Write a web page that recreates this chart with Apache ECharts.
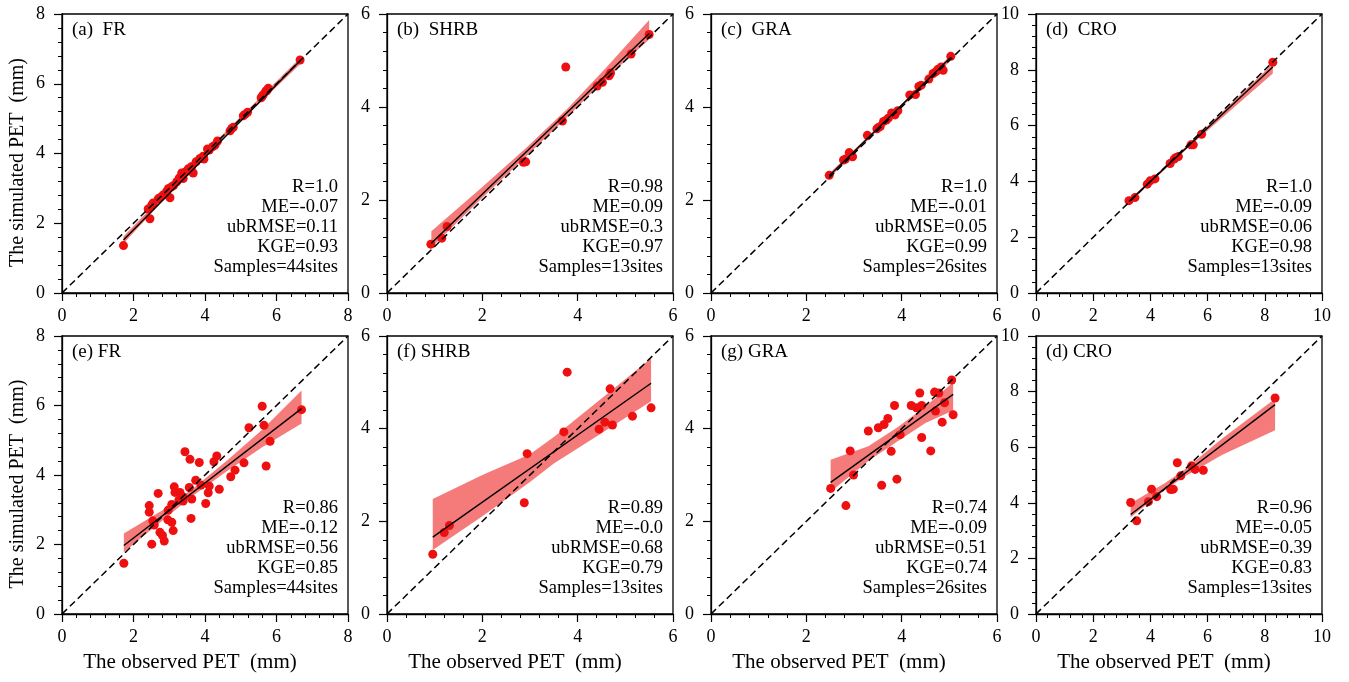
<!DOCTYPE html>
<html><head><meta charset="utf-8">
<script src="https://cdn.jsdelivr.net/npm/echarts@6/dist/echarts.min.js"></script>
<style>html,body{margin:0;padding:0;background:#fff}#c{width:1349px;height:682px}</style>
</head><body><div id="c"></div><script>
// ---------- DATA ----------
const panelLabels = ['(a)  FR','(b)  SHRB','(c)  GRA','(d)  CRO','(e) FR','(f) SHRB','(g) GRA','(d) CRO'];
const axisMax = [8, 6, 6, 10, 8, 6, 6, 10];
const xTitle = 'The observed PET  (mm)';
const yTitle = 'The simulated PET  (mm)';

const ptsA = [[1.72,1.36],[2.46,2.13],[2.41,2.41],[2.51,2.52],[2.69,2.70],[2.83,2.81],[3.02,2.73],[3.07,3.05],[2.93,2.92],[3.21,3.19],[3.35,3.44],[3.39,3.28],[3.53,3.56],[3.67,3.44],[3.63,3.63],[3.86,3.86],[3.97,3.84],[4.07,4.13],[4.28,4.24],[4.35,4.36],[4.70,4.65],[4.79,4.75],[5.07,5.08],[5.19,5.18],[5.57,5.60],[5.63,5.69],[5.70,5.79],[5.77,5.87],[6.66,6.68],[2.55,2.58],[2.75,2.74],[2.98,3.00],[3.12,3.08],[3.28,3.30],[3.45,3.47],[3.58,3.50],[3.75,3.76],[4.12,4.10],[4.22,4.20],[4.75,4.72],[5.12,5.12],[5.60,5.64],[5.73,5.80],[3.95,3.92]];
const ptsB = [[0.92,1.05],[1.15,1.18],[1.26,1.43],[2.86,2.81],[2.91,2.82],[3.68,3.70],[3.75,4.86],[4.41,4.45],[4.52,4.53],[4.66,4.67],[4.69,4.73],[5.12,5.14],[5.50,5.56]];
const ptsC = [[2.48,2.53],[2.78,2.86],[2.90,3.02],[2.97,2.93],[3.28,3.39],[3.48,3.53],[3.55,3.58],[3.62,3.69],[3.72,3.76],[3.79,3.87],[3.86,3.83],[3.92,3.92],[4.17,4.26],[4.29,4.27],[4.36,4.44],[4.41,4.47],[4.57,4.60],[4.66,4.72],[4.76,4.81],[4.83,4.86],[4.87,4.79],[5.03,5.09],[3.50,3.55],[3.68,3.72],[4.72,4.76],[2.82,2.88]];
const ptsD = [[3.25,3.31],[3.46,3.42],[3.89,3.90],[3.99,4.02],[4.16,4.09],[4.69,4.64],[4.83,4.80],[4.90,4.86],[4.98,4.89],[5.42,5.31],[5.50,5.31],[5.79,5.69],[8.28,8.27]];
const ptsE = [[1.73,1.46],[2.51,2.01],[2.44,3.12],[2.44,2.93],[2.54,2.68],[2.58,2.56],[2.69,3.47],[2.74,2.35],[2.81,2.26],[2.86,2.10],[2.96,2.71],[3.07,2.64],[3.11,2.40],[2.97,2.99],[3.07,3.15],[3.14,3.66],[3.16,3.50],[3.30,3.50],[3.39,3.37],[3.39,3.25],[3.44,4.67],[3.56,3.64],[3.58,4.45],[3.61,2.75],[3.63,3.31],[3.74,3.85],[3.84,4.36],[3.89,3.71],[4.02,3.18],[4.09,3.49],[4.12,3.68],[4.25,4.38],[4.33,4.55],[4.40,3.59],[4.72,3.95],[4.84,4.14],[5.09,4.35],[5.23,5.36],[5.60,5.98],[5.65,5.43],[5.71,4.26],[5.82,4.97],[6.70,5.88],[3.27,3.28]];
const ptsF = [[0.96,1.29],[1.20,1.76],[1.31,1.91],[2.88,2.40],[2.94,3.46],[3.71,3.93],[3.78,5.22],[4.45,3.99],[4.57,4.14],[4.68,4.86],[4.73,4.08],[5.15,4.27],[5.54,4.45]];
const ptsG = [[2.51,2.71],[2.83,2.34],[2.92,3.52],[2.99,3.00],[3.30,3.95],[3.51,4.02],[3.58,2.78],[3.63,4.09],[3.71,4.22],[3.78,3.51],[3.85,4.50],[3.90,2.91],[3.97,3.87],[4.20,4.50],[4.31,4.45],[4.38,4.77],[4.42,4.50],[4.42,3.81],[4.61,3.52],[4.69,4.79],[4.71,4.38],[4.78,4.77],[4.85,4.14],[4.90,4.56],[5.05,5.05],[5.08,4.30]];
const ptsH = [[3.31,4.01],[3.52,3.35],[3.93,4.04],[4.04,4.49],[4.22,4.22],[4.71,4.48],[4.80,4.49],[4.94,5.44],[5.06,4.97],[5.44,5.33],[5.56,5.20],[5.85,5.17],[8.36,7.77]];

// regression lines: [[x0,y0],[x1,y1]]
const fitA = [[1.72,1.52],[6.66,6.66]];
const fitB = [[0.93,1.07],[5.50,5.58]];
const fitC = [[2.48,2.52],[5.03,5.07]];
const fitD = [[3.25,3.28],[8.28,8.10]];
const fitE = [[1.73,1.97],[6.70,5.91]];
const fitF = [[0.96,1.66],[5.54,4.98]];
const fitG = [[2.51,2.84],[5.08,4.74]];
const fitH = [[3.31,3.58],[8.36,7.53]];

// confidence bands: [x, lower, upper]
const bandA = [[1.72,1.42,1.62],[4.0,3.94,4.04],[6.66,6.56,6.74]];
const bandB = [[0.93,0.98,1.33],[2.0,2.05,2.28],[2.9,2.92,3.10],[3.8,3.80,3.98],[4.6,4.62,4.85],[5.5,5.45,5.87]];
const bandC = [[2.48,2.47,2.57],[3.8,3.80,3.86],[5.03,5.00,5.12]];
const bandD = [[3.25,3.23,3.33],[5.5,5.38,5.50],[8.28,7.87,8.22]];
const bandE = [[1.73,1.78,2.32],[2.8,2.68,2.98],[3.7,3.43,3.64],[4.6,4.10,4.40],[5.6,4.80,5.30],[6.70,5.48,6.43]];
const bandF = [[0.96,1.38,2.48],[2.0,2.11,3.00],[3.0,2.85,3.45],[3.5,3.25,3.82],[4.5,3.90,4.65],[5.54,4.59,5.52]];
const bandG = [[2.51,2.64,3.33],[3.3,3.30,3.62],[3.9,3.72,4.02],[4.5,4.12,4.48],[5.08,4.39,5.00]];
const bandH = [[3.31,3.48,3.98],[4.5,4.45,4.70],[5.2,4.95,5.20],[6.5,5.72,6.30],[8.36,6.61,7.74]];

const statsA = ['R=1.0','ME=-0.07','ubRMSE=0.11','KGE=0.93','Samples=44sites'];
const statsB = ['R=0.98','ME=0.09','ubRMSE=0.3','KGE=0.97','Samples=13sites'];
const statsC = ['R=1.0','ME=-0.01','ubRMSE=0.05','KGE=0.99','Samples=26sites'];
const statsD = ['R=1.0','ME=-0.09','ubRMSE=0.06','KGE=0.98','Samples=13sites'];
const statsE = ['R=0.86','ME=-0.12','ubRMSE=0.56','KGE=0.85','Samples=44sites'];
const statsF = ['R=0.89','ME=-0.0','ubRMSE=0.68','KGE=0.79','Samples=13sites'];
const statsG = ['R=0.74','ME=-0.09','ubRMSE=0.51','KGE=0.74','Samples=26sites'];
const statsH = ['R=0.96','ME=-0.05','ubRMSE=0.39','KGE=0.83','Samples=13sites'];

// ---------- BUILD ----------
const pts = [ptsA,ptsB,ptsC,ptsD,ptsE,ptsF,ptsG,ptsH];
const fits = [fitA,fitB,fitC,fitD,fitE,fitF,fitG,fitH];
const bands = [bandA,bandB,bandC,bandD,bandE,bandF,bandG,bandH];
const stats = [statsA,statsB,statsC,statsD,statsE,statsF,statsG,statsH];

const FONT = '"Liberation Serif","Times New Roman",serif';
const colLeft = [62, 387, 711, 1036];
const W = 286;
const rowTop = [14, 336];
const H = [279, 278];

const grids = [], xAxes = [], yAxes = [], series = [], graphics = [];
for (let i = 0; i < 8; i++) {
  const r = Math.floor(i / 4), c = i % 4;
  const left = colLeft[c], top = rowTop[r], h = H[r];
  grids.push({left: left, top: top, width: W, height: h, show: true, borderColor: '#000', borderWidth: 1.3, backgroundColor: 'transparent'});
  const common = {
    type: 'value', min: 0, max: axisMax[i], interval: 2, gridIndex: i,
    axisLine: {show: true, onZero: false, lineStyle: {color: '#000', width: 1.3}},
    axisTick: {show: true, inside: false, length: 8, lineStyle: {color: '#000', width: 1.2}},
    minorTick: {show: true, splitNumber: 5, length: 4, lineStyle: {color: '#000', width: 1}},
    splitLine: {show: false},
    axisLabel: {color: '#000', fontFamily: FONT, fontSize: 18},
  };
  const xa = Object.assign({}, common, {axisLabel: Object.assign({}, common.axisLabel, {margin: 14})});
  if (r === 1) {
    Object.assign(xa, {name: xTitle, nameLocation: 'middle', nameGap: 38,
      nameTextStyle: {color: '#000', fontFamily: FONT, fontSize: 21, padding: [0, 30, 0, 0]}});
  }
  const ya = Object.assign({}, common, {axisLabel: Object.assign({}, common.axisLabel, {margin: 17})});
  if (c === 0) {
    Object.assign(ya, {name: yTitle, nameLocation: 'middle', nameGap: 34,
      nameTextStyle: {color: '#000', fontFamily: FONT, fontSize: 20, padding: [0, 18, 0, 0]}});
  }
  xAxes.push(xa); yAxes.push(ya);

  const band = bands[i];
  series.push({
    type: 'custom', xAxisIndex: i, yAxisIndex: i, z: 1, silent: true, clip: true,
    data: band, encode: {x: 0, y: [1, 2]},
    renderItem: function (params, api) {
      if (params.dataIndex !== 0) return null;
      const up = band.map(b => api.coord([b[0], b[2]]));
      const lo = band.slice().reverse().map(b => api.coord([b[0], b[1]]));
      return {type: 'polygon', shape: {points: up.concat(lo)}, style: {fill: '#f57b7b'}};
    }
  });
  series.push({
    type: 'scatter', xAxisIndex: i, yAxisIndex: i, z: 3, data: pts[i], symbolSize: 9,
    itemStyle: {color: '#ee1010', opacity: 1}, silent: true
  });
  series.push({
    type: 'line', xAxisIndex: i, yAxisIndex: i, z: 4, data: fits[i], showSymbol: false, symbol: 'none',
    lineStyle: {color: '#000', width: 1.4}, silent: true
  });
  series.push({
    type: 'line', xAxisIndex: i, yAxisIndex: i, z: 5, data: [[0, 0], [axisMax[i], axisMax[i]]], showSymbol: false, symbol: 'none',
    lineStyle: {color: '#000', width: 1.5, type: [7, 4]}, silent: true
  });

  graphics.push({type: 'text', x: left + 10, y: top + 16, silent: true,
    style: {text: panelLabels[i], font: '19px ' + FONT, fill: '#000', textAlign: 'left', textVerticalAlign: 'middle'}});
  graphics.push({type: 'text', x: left + W - 10, y: top + h - 16, silent: true,
    style: {text: stats[i].join('\n'), font: '18.5px ' + FONT, lineHeight: 20, fill: '#000', textAlign: 'right', textVerticalAlign: 'bottom'}});
}

const chart = echarts.init(document.getElementById('c'), null, {renderer: 'canvas'});
chart.setOption({
  animation: false,
  backgroundColor: '#fff',
  grid: grids, xAxis: xAxes, yAxis: yAxes, series: series, graphic: graphics
});
</script></body></html>
